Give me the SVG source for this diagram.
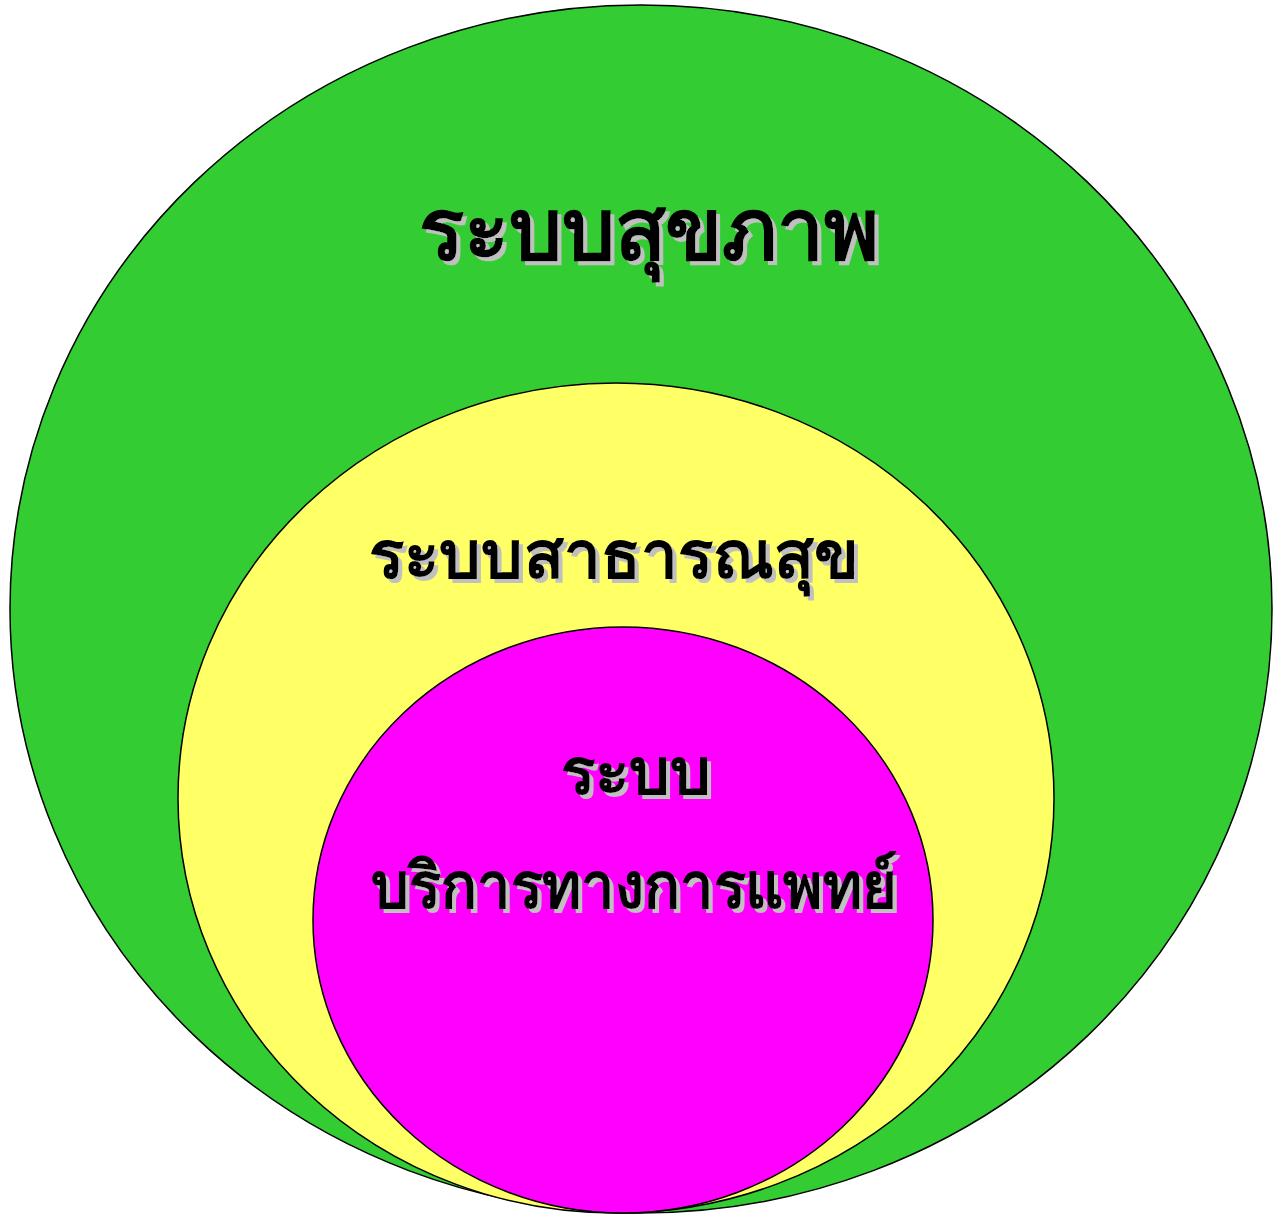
<svg xmlns="http://www.w3.org/2000/svg" width="1273" height="1215" viewBox="0 0 1273 1215">
<defs>
<filter id="sh" x="-5%" y="-20%" width="115%" height="150%">
<feFlood flood-color="#c0c0c0" result="c"/>
<feComposite in="c" in2="SourceAlpha" operator="in" result="g"/>
<feOffset in="g" dx="4" dy="4" result="o"/>
<feMerge><feMergeNode in="o"/><feMergeNode in="SourceGraphic"/></feMerge>
</filter>
</defs>
<style>
.e{stroke:#000;stroke-width:1.5}
.t{font-family:"Liberation Serif","DejaVu Serif",serif;font-weight:bold;text-anchor:middle;fill:#000;filter:url(#sh)}
</style>
<rect width="1273" height="1215" fill="#fff"/>
<g id="health-system">
<ellipse class="e" cx="641" cy="609" rx="631" ry="604" fill="#33cc33"/>
<text class="t" x="649" y="259" font-size="84" textLength="460" lengthAdjust="spacingAndGlyphs">ระบบสุขภาพ</text>
</g>
<g id="public-health-system">
<ellipse class="e" cx="616" cy="798" rx="438" ry="415" fill="#ffff66"/>
<text class="t" x="614" y="578" font-size="67" textLength="490" lengthAdjust="spacingAndGlyphs">ระบบสาธารณสุข</text>
</g>
<g id="medical-service-system">
<ellipse class="e" cx="623" cy="920" rx="310" ry="293" fill="#ff00ff"/>
<text class="t" x="636" y="794" font-size="64" textLength="150" lengthAdjust="spacingAndGlyphs">ระบบ</text>
<text class="t" x="634" y="908" font-size="64" textLength="526" lengthAdjust="spacingAndGlyphs">บริการทางการแพทย์</text>
</g>
</svg>
